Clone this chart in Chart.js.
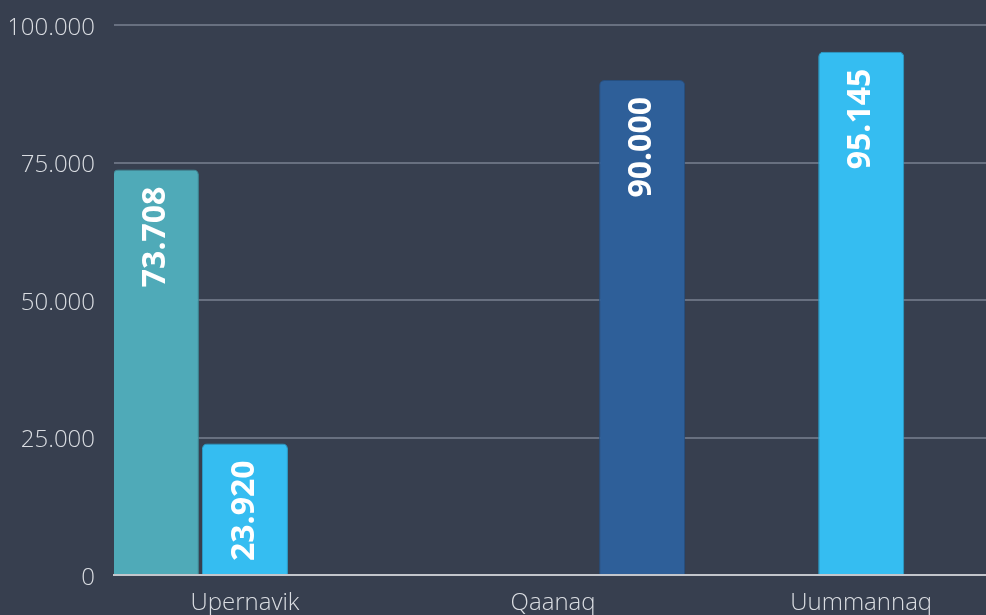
<!DOCTYPE html>
<html>
<head>
<meta charset="utf-8">
<script src="https://cdn.jsdelivr.net/npm/chart.js@4"></script>
<style>
  html, body { margin: 0; padding: 0; background: #373f4f; overflow: hidden; }
  #chart-root { width: 986px; height: 615px; position: relative; }
</style>
</head>
<body>
<div id="chart-root"><canvas id="chart-main"></canvas></div>
<script>
const towns = ["Upernavik", "Qaanaq", "Uummannaq"];
const tealValues = [73708, null, null];
const lightBlueValues = [23920, null, 95145];
const darkBlueValues = [null, 90000, null];
const yTicks = [0, 25000, 50000, 75000, 100000];

const tickColor = "#dadde2";

function formatNumber(v) {
    return String(Math.round(v)).replace(/\B(?=(\d{3})+(?!\d))/g, ".");
}

function toPoints(values) {
    return values.map((v, i) => ({ x: i, y: v }));
}

// draws the rotated white value inside each bar
const barLabels = {
    id: "barLabels",
    afterDatasetsDraw(chart) {
        const ctx = chart.ctx;
        ctx.save();
        ctx.fillStyle = "#ffffff";
        ctx.font = "bold 32px 'Open Sans'";
        ctx.textAlign = "right";
        ctx.textBaseline = "middle";
        chart.data.datasets.forEach((ds, di) => {
            const meta = chart.getDatasetMeta(di);
            meta.data.forEach((bar, i) => {
                const v = ds.data[i].y;
                if (v === null) return;
                ctx.save();
                ctx.translate(bar.x, bar.y + 17);
                ctx.rotate(-Math.PI / 2);
                ctx.fillText(formatNumber(v), 0, 0);
                ctx.restore();
            });
        });
        ctx.restore();
    }
};

function barStyle(color, border) {
    return {
        backgroundColor: color,
        borderColor: border,
        borderWidth: 1,
        borderRadius: { topLeft: 5, topRight: 5, bottomLeft: 0, bottomRight: 0 },
        borderSkipped: "start",
        categoryPercentage: 0.867,
        barPercentage: 0.966
    };
}

new Chart(document.getElementById("chart-main"), {
    type: "bar",
    data: {
        datasets: [
            Object.assign({ label: "a", data: toPoints(tealValues) }, barStyle("#4faab8", "#3f8c99")),
            Object.assign({ label: "b", data: toPoints(lightBlueValues) }, barStyle("#35bdf1", "#2b9fcb")),
            Object.assign({ label: "c", data: toPoints(darkBlueValues) }, barStyle("#2e5f99", "#264f80"))
        ]
    },
    options: {
        responsive: true,
        maintainAspectRatio: false,
        animation: false,
        layout: { padding: { top: 25, left: 10, right: 0, bottom: 0 } },
        plugins: { legend: { display: false }, tooltip: { enabled: false } },
        scales: {
            x: {
                type: "linear",
                offset: false,
                min: -0.425,
                max: 2.405,
                afterFit(scale) { scale.height = 40; },
                grid: { display: false, drawTicks: false },
                border: { display: true, color: "#c3c6cc", width: 2 },
                ticks: {
                    stepSize: 1,
                    includeBounds: false,
                    autoSkip: false,
                    maxRotation: 0,
                    padding: 14,
                    color: tickColor,
                    font: { family: "'Open Sans'", size: 24, weight: 300 },
                    callback: (v) => towns[v] || ""
                }
            },
            y: {
                min: 0,
                max: 100000,
                afterFit(scale) {
                    scale.width = 104;
                    scale.paddingTop = 0;
                    scale.paddingBottom = 0;
                },
                afterBuildTicks(scale) { scale.ticks = yTicks.map(v => ({ value: v })); },
                grid: { color: "#687080", lineWidth: 2, drawTicks: false },
                border: { display: false },
                ticks: {
                    padding: 19,
                    labelOffset: 3,
                    color: tickColor,
                    font: { family: "'Open Sans'", size: 24, weight: 300 },
                    callback: (v) => formatNumber(v)
                }
            }
        }
    },
    plugins: [barLabels]
});
</script>
</body>
</html>
